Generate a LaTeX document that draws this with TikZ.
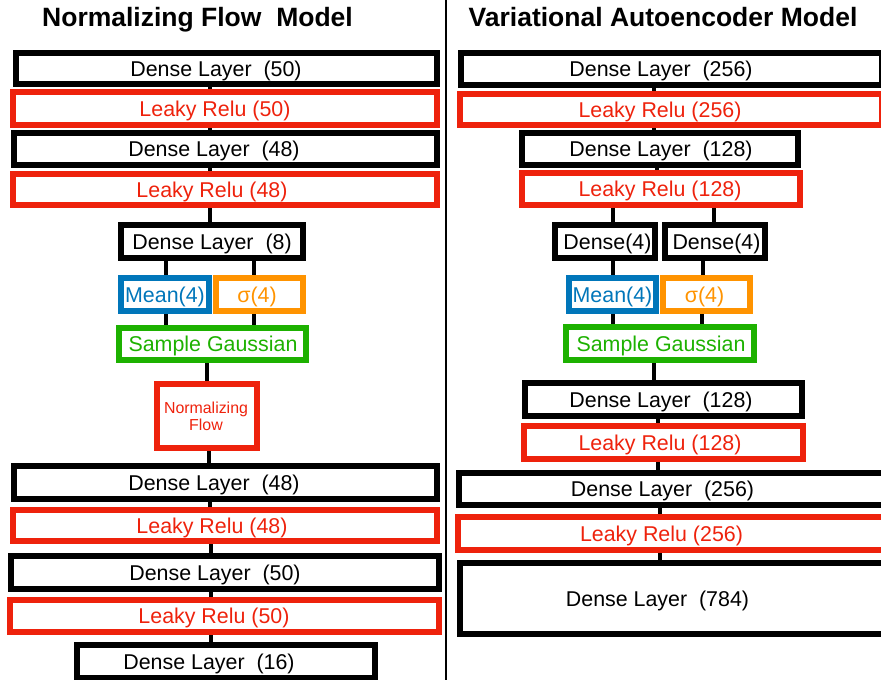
\documentclass[tikz,border=0pt]{standalone}
\usepackage{fontspec}
\setmainfont{Liberation Sans}
\definecolor{kred}{HTML}{EE220C}
\definecolor{kblue}{HTML}{0076BA}
\definecolor{korange}{HTML}{FF9300}
\definecolor{kgreen}{HTML}{1DB100}
\tikzset{
 boxshape/.style={draw=#1, line width=6pt, rectangle, inner sep=0pt},
 boxtext/.style={text=#1, inner sep=0pt, yshift=-2pt, font=\fontsize{21.4}{24}\selectfont},
 conn/.style={line width=4.5pt, draw=black},
 ttl/.style={font=\fontsize{26.5}{30}\selectfont\bfseries, anchor=base, inner sep=0pt},
}
\newcommand\mybox[8]{%
 \node[boxshape=#6, minimum width={#4-#2-6}, minimum height={#5-#3-6}] (#1) at ({(#2+#4)/2},{(#3+#5)/2}) {};
 \node[boxtext=#6] (#1t) at (#7,{(#3+#5)/2}) {#8};
}
\begin{document}
\begin{tikzpicture}[x=1pt,y=-1pt]
\useasboundingbox (0,0) rectangle (881,680);
\clip (0,0) rectangle (881,680);
% titles
\node[ttl] (tl) at (197.5,27) {Normalizing Flow\ \ Model};
\node[ttl] (tr) at (663,27) {Variational Autoencoder Model};
% divider
\coordinate (dtop) at (446,0);
\coordinate (dbot) at (446,680);
\draw[line width=2pt] (dtop) -- (dbot);
% left column
\mybox{a1}{13}{50}{440}{87}{black}{216}{Dense Layer\ \ (50)}
\mybox{a2}{10}{89}{440}{128}{kred}{215}{Leaky Relu (50)}
\mybox{a3}{11}{130}{440}{168}{black}{214}{Dense Layer\ \ (48)}
\mybox{a4}{10}{171}{440}{208}{kred}{212}{Leaky Relu (48)}
\mybox{a5}{118}{222}{306}{261}{black}{212}{Dense Layer\ \ (8)}
\mybox{a6}{118}{275}{212}{314}{kblue}{165}{Mean(4)}
\mybox{a7}{213}{275}{306}{314}{korange}{257}{σ(4)}
\mybox{a8}{116}{325}{309}{363}{kgreen}{213}{Sample Gaussian}
\node[boxshape=kred, minimum width=100, minimum height=64] (a9) at (207,416) {};
\node[text=kred, inner sep=0pt, align=center, font=\fontsize{15.9}{17}\selectfont] (a9t) at (206,416.5) {Normalizing\\Flow};
\mybox{a10}{11}{463}{440}{502}{black}{214}{Dense Layer\ \ (48)}
\mybox{a11}{10}{507}{440}{544}{kred}{212}{Leaky Relu (48)}
\mybox{a12}{8}{553}{442}{592}{black}{215}{Dense Layer\ \ (50)}
\mybox{a13}{7}{597}{442}{635}{kred}{214}{Leaky Relu (50)}
\mybox{a14}{74}{642}{378}{681}{black}{209}{Dense Layer\ \ (16)}
% right column
\mybox{b1}{458}{50}{885}{88}{black}{661}{Dense Layer\ \ (256)}
\mybox{b2}{457}{91}{885}{128}{kred}{660}{Leaky Relu (256)}
\mybox{b3}{519}{130}{801}{168}{black}{661}{Dense Layer\ \ (128)}
\mybox{b4}{519}{170}{803}{208}{kred}{660}{Leaky Relu (128)}
\mybox{b5}{552}{222}{658}{261}{black}{607.5}{Dense(4)}
\mybox{b6}{662}{222}{768}{261}{black}{716.5}{Dense(4)}
\mybox{b7}{566}{275}{659}{314}{kblue}{612.5}{Mean(4)}
\mybox{b8}{660}{275}{753}{314}{korange}{704.5}{σ(4)}
\mybox{b9}{563}{324}{757}{363}{kgreen}{661}{Sample Gaussian}
\mybox{b10}{522}{380}{805}{419}{black}{661}{Dense Layer\ \ (128)}
\mybox{b11}{521}{423}{806}{462}{kred}{660}{Leaky Relu (128)}
\mybox{b12}{456}{470}{900}{508}{black}{662.5}{Dense Layer\ \ (256)}
\mybox{b13}{455}{514}{900}{553}{kred}{661.5}{Leaky Relu (256)}
\mybox{b14}{457}{560}{900}{637}{black}{657.5}{Dense Layer\ \ (784)}
% connector x positions
\coordinate (L210) at (210,0);
\coordinate (L211) at (211,0);
\coordinate (L166) at (166,0);
\coordinate (L254) at (254,0);
\coordinate (L207) at (207,0);
\coordinate (L209) at (209,0);
\coordinate (R654) at (654,0);
\coordinate (R657) at (657,0);
\coordinate (R613) at (613,0);
\coordinate (R714) at (714,0);
\coordinate (R703) at (703,0);
\coordinate (R702) at (702,0);
\coordinate (R658) at (658,0);
\coordinate (R660) at (660,0);
% left connectors
\draw[conn] (a1.south -| L210) -- (a2.north -| L210);
\draw[conn] (a2.south -| L210) -- (a3.north -| L210);
\draw[conn] (a3.south -| L210) -- (a4.north -| L210);
\draw[conn] (a4.south -| L210) -- (a5.north -| L210);
\draw[conn] (a5.south -| L166) -- (a6.north -| L166);
\draw[conn] (a5.south -| L254) -- (a7.north -| L254);
\draw[conn] (a6.south -| L166) -- (a8.north -| L166);
\draw[conn] (a7.south -| L254) -- (a8.north -| L254);
\draw[conn] (a8.south -| L207) -- (a9.north -| L207);
\draw[conn] (a9.south -| L209) -- (a10.north -| L209);
\draw[conn] (a10.south -| L210) -- (a11.north -| L210);
\draw[conn] (a11.south -| L211) -- (a12.north -| L211);
\draw[conn] (a12.south -| L211) -- (a13.north -| L211);
\draw[conn] (a13.south -| L211) -- (a14.north -| L211);
% right connectors
\draw[conn] (b1.south -| R654) -- (b2.north -| R654);
\draw[conn] (b2.south -| R654) -- (b3.north -| R654);
\draw[conn] (b3.south -| R657) -- (b4.north -| R657);
\draw[conn] (b4.south -| R613) -- (b5.north -| R613);
\draw[conn] (b4.south -| R714) -- (b6.north -| R714);
\draw[conn] (b5.south -| R613) -- (b7.north -| R613);
\draw[conn] (b6.south -| R703) -- (b8.north -| R703);
\draw[conn] (b7.south -| R613) -- (b9.north -| R613);
\draw[conn] (b8.south -| R702) -- (b9.north -| R702);
\draw[conn] (b9.south -| R654) -- (b10.north -| R654);
\draw[conn] (b10.south -| R658) -- (b11.north -| R658);
\draw[conn] (b11.south -| R658) -- (b12.north -| R658);
\draw[conn] (b12.south -| R660) -- (b13.north -| R660);
\draw[conn] (b13.south -| R660) -- (b14.north -| R660);
\end{tikzpicture}
\end{document}
